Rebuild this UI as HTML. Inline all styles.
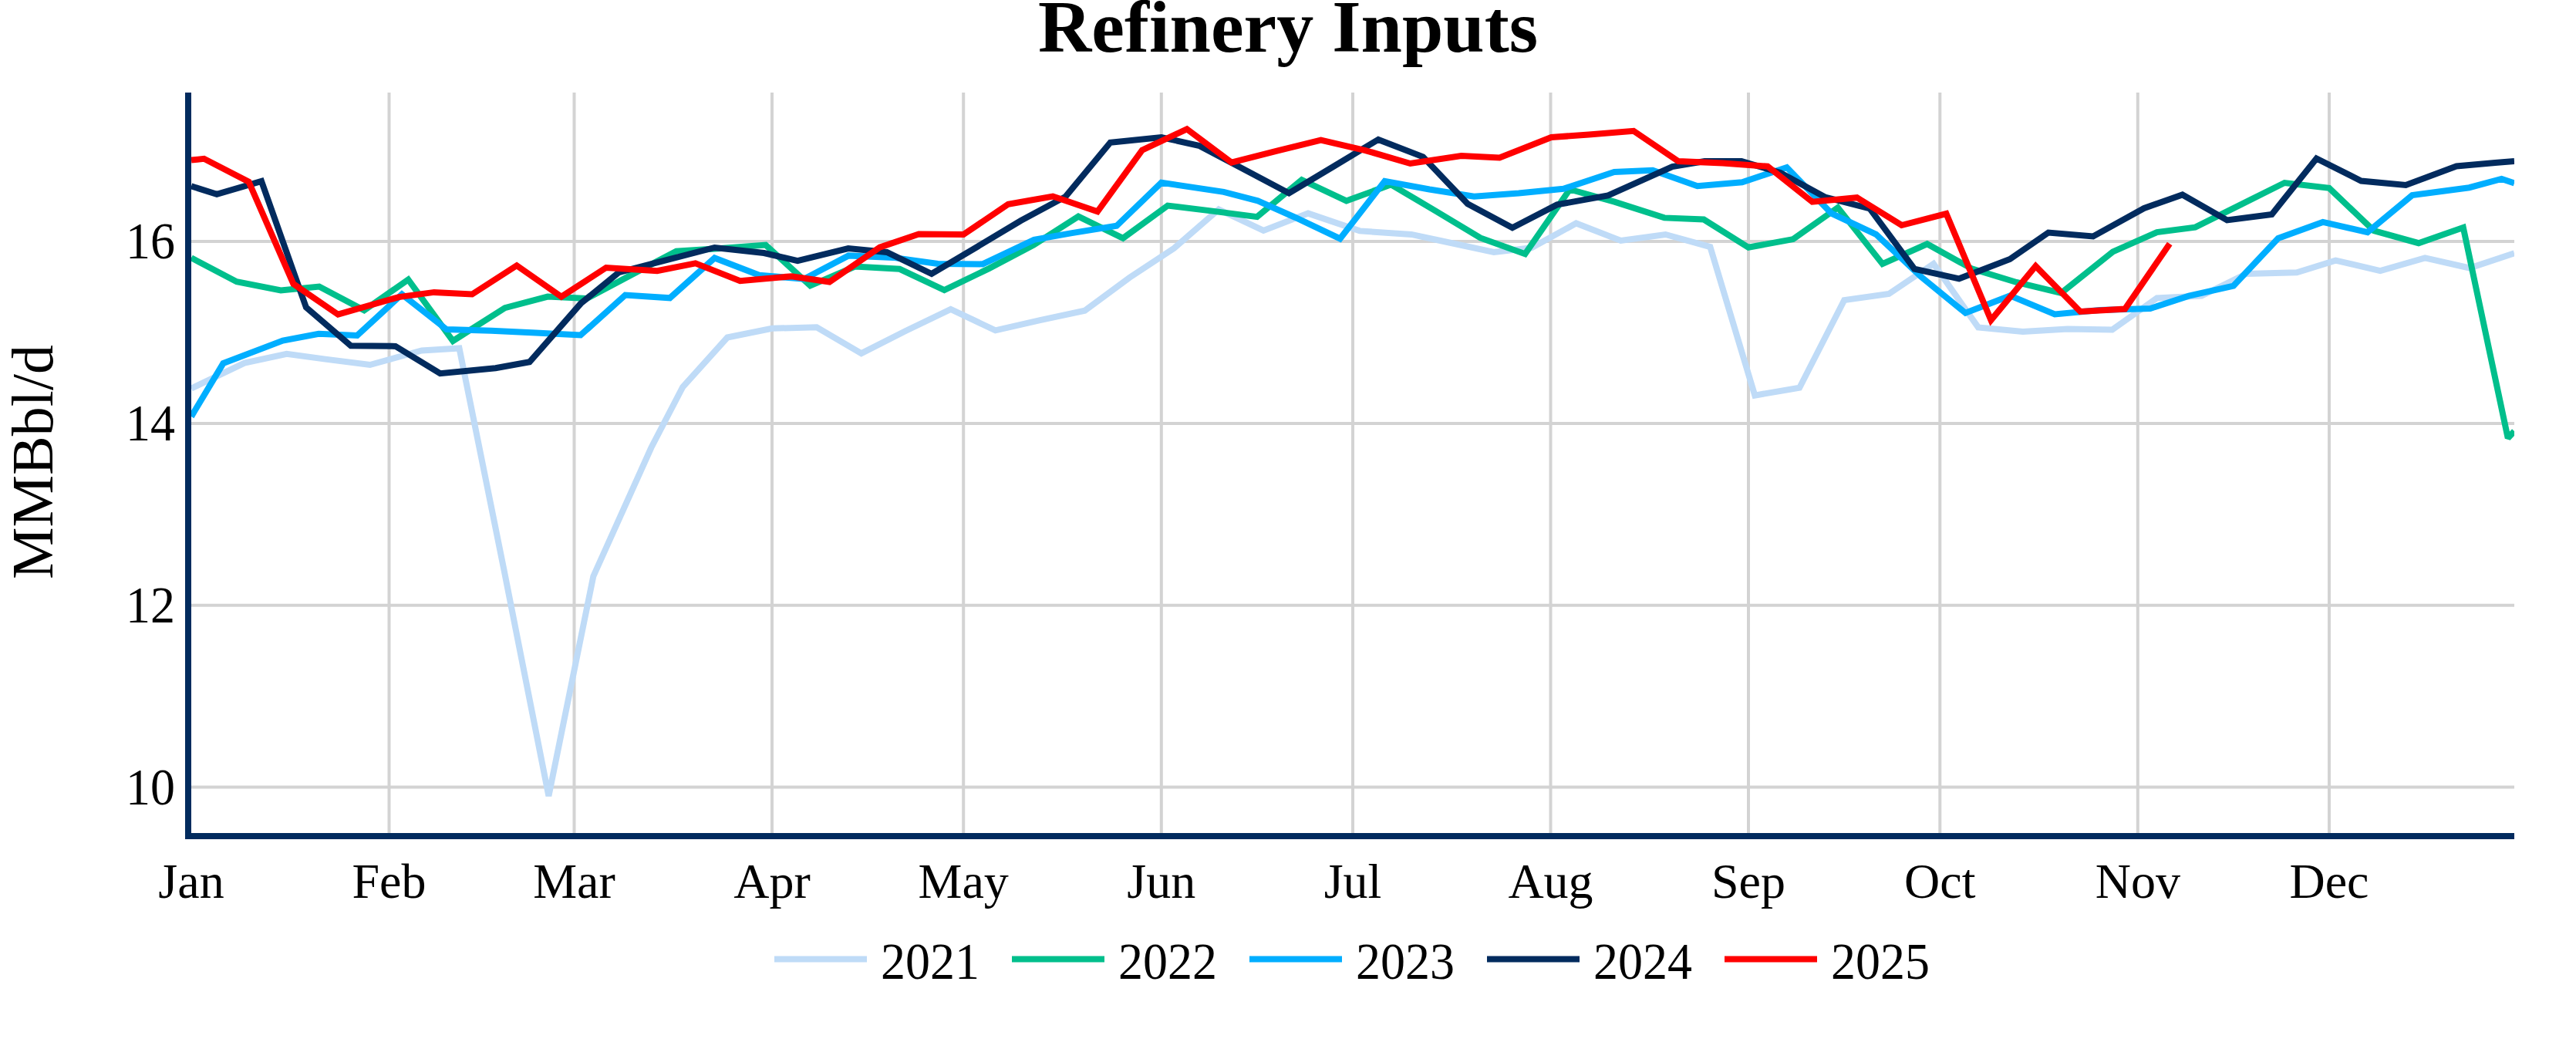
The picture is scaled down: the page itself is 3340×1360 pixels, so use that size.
<!DOCTYPE html>
<html lang="en"><head><meta charset="utf-8"><title>Refinery Inputs</title>
<style>html,body{margin:0;padding:0;background:#fff}body{width:3340px;height:1360px;overflow:hidden}svg{display:block}text{font-family:"Liberation Serif",serif;fill:#000}</style></head><body>
<svg width="3340" height="1360" viewBox="0 0 3340 1360">
<rect width="3340" height="1360" fill="#fff"/>
<defs><clipPath id="c"><rect x="248" y="120" width="3012" height="960"/></clipPath></defs>
<path d="M504.5,120 V1080 M744.5,120 V1080 M1001.0,120 V1080 M1249.2,120 V1080 M1505.8,120 V1080 M1754.0,120 V1080 M2010.5,120 V1080 M2267.0,120 V1080 M2515.3,120 V1080 M2771.8,120 V1080 M3020.0,120 V1080 M248,1020.6 H3260 M248,784.7 H3260 M248,548.9 H3260 M248,313.0 H3260" stroke="#D3D3D3" stroke-width="4" fill="none"/>
<g clip-path="url(#c)" fill="none" stroke-width="8" stroke-linejoin="miter" stroke-miterlimit="2">
<polyline stroke="#BFDBF7" points="248.0,503.6 317.0,470.6 371.7,458.9 421.8,465.6 479.7,473.0 546.8,454.4 595.5,451.4 653.5,739.0 711.4,1032.0 769.3,747.2 844.3,580.5 885.2,501.8 943.1,437.5 1001.0,425.8 1058.9,424.3 1116.8,458.1 1174.8,428.8 1232.7,401.0 1290.6,428.3 1348.5,415.2 1406.5,402.7 1464.4,360.0 1522.3,321.8 1580.2,271.6 1638.2,298.9 1696.1,276.6 1763.0,299.4 1830.0,303.9 1869.8,312.5 1936.9,327.0 1985.7,321.3 2043.6,289.5 2101.5,311.9 2159.5,304.0 2217.4,320.1 2275.3,512.6 2333.2,502.7 2391.2,389.1 2449.1,381.0 2507.0,342.0 2564.9,424.4 2622.8,429.9 2680.8,426.5 2738.7,427.6 2796.6,386.4 2854.5,383.5 2912.5,355.0 2978.0,353.3 3028.3,337.6 3086.2,351.2 3144.2,334.3 3202.1,347.5 3260.0,328.4"/>
<polyline stroke="#00BF8C" points="248.0,334.3 306.9,365.2 364.1,376.4 413.9,371.5 472.2,402.4 529.3,362.5 587.3,442.0 654.7,399.2 710.1,384.6 761.0,387.0 819.0,356.1 876.9,325.8 934.8,322.0 992.7,317.5 1050.6,370.4 1108.6,345.6 1166.5,348.8 1224.4,376.1 1282.3,348.1 1340.3,317.5 1398.2,280.6 1456.1,308.8 1514.0,266.6 1572.0,273.6 1629.9,281.1 1687.8,233.1 1745.7,260.4 1803.6,239.3 1861.6,273.6 1919.5,308.4 1977.4,329.3 2035.3,245.5 2093.3,261.7 2158.0,282.4 2209.1,284.5 2267.0,320.8 2325.0,310.1 2382.9,269.1 2440.8,342.2 2498.7,316.3 2556.6,348.4 2614.6,366.0 2672.5,379.8 2739.5,326.4 2796.6,301.1 2846.3,294.6 2904.2,265.8 2962.1,237.0 3020.0,243.9 3078.0,299.1 3135.9,315.2 3193.8,295.0 3251.7,568.0 3260.0,559.0"/>
<polyline stroke="#00AEFF" points="248.0,540.1 289.4,471.1 366.7,441.5 413.2,432.8 463.1,435.0 521.1,381.5 579.0,427.1 636.9,428.8 694.8,431.6 752.8,434.5 810.7,382.6 868.6,386.3 926.5,334.4 984.5,356.8 1042.4,361.7 1100.3,331.4 1158.2,333.9 1216.1,341.9 1274.1,342.4 1340.7,310.8 1389.9,302.1 1447.8,292.8 1505.8,236.8 1586.7,248.9 1630.8,260.3 1679.5,282.0 1737.5,309.4 1795.4,234.8 1853.3,245.5 1911.2,254.7 1969.1,250.5 2027.1,244.8 2093.0,223.0 2142.9,220.7 2200.8,241.3 2258.8,236.3 2316.7,217.0 2374.6,276.6 2432.5,303.9 2490.5,358.6 2548.4,405.8 2606.3,383.4 2664.2,407.5 2722.1,402.1 2788.0,400.0 2838.0,383.7 2895.9,370.6 2953.8,309.0 3011.8,287.9 3069.7,301.1 3127.6,253.1 3201.6,243.2 3243.5,232.0 3260.0,237.5"/>
<polyline stroke="#022B5E" points="248.0,241.4 281.1,251.8 339.0,234.9 396.9,398.5 454.9,448.2 512.8,448.9 570.7,484.2 642.5,477.3 686.6,469.3 753.0,393.5 802.4,353.2 860.3,338.2 926.5,321.0 990.6,328.0 1034.1,338.1 1099.8,322.0 1149.9,327.0 1207.9,355.0 1265.8,320.7 1323.7,286.0 1381.6,254.9 1439.6,184.7 1505.8,178.0 1555.4,189.1 1613.3,219.7 1671.3,250.5 1729.2,215.7 1787.1,180.9 1845.0,203.3 1902.9,264.2 1960.9,295.2 2018.8,265.4 2085.0,253.4 2168.3,216.1 2210.2,209.1 2258.0,209.1 2308.4,223.9 2366.3,255.5 2424.3,270.4 2482.2,348.6 2540.1,361.3 2606.0,336.0 2655.9,301.5 2713.9,306.5 2780.0,270.0 2829.7,252.4 2887.6,285.4 2945.6,277.9 3003.5,205.5 3061.4,234.5 3119.3,239.9 3185.0,215.5 3235.2,210.9 3260.0,209.1"/>
<polyline stroke="#FF0000" points="248.0,207.6 264.5,205.8 322.5,235.7 380.4,368.0 438.3,407.7 517.2,385.1 562.8,378.9 612.1,381.5 670.0,344.2 727.9,384.7 785.9,347.0 852.0,351.2 901.7,341.4 959.6,364.2 1026.4,358.2 1075.5,365.5 1140.7,320.7 1191.3,303.4 1249.2,304.1 1307.2,264.8 1365.1,254.5 1423.0,274.3 1480.9,194.6 1538.9,167.3 1596.8,210.7 1654.7,195.8 1712.6,181.7 1770.5,195.1 1828.5,212.0 1894.7,202.0 1944.3,204.5 2011.4,178.0 2060.2,174.5 2118.1,169.8 2176.0,209.0 2233.9,211.5 2291.9,215.7 2349.8,261.7 2407.7,256.2 2465.6,292.0 2523.5,277.1 2581.5,415.0 2639.4,345.0 2697.3,404.0 2755.2,400.6 2813.2,316.0"/>
</g>
<path d="M244,120 V1084" stroke="#022B5E" stroke-width="8" fill="none"/>
<path d="M240,1084 H3260" stroke="#022B5E" stroke-width="8" fill="none"/>
<text x="1670" y="66.5" text-anchor="middle" font-size="96" font-weight="bold">Refinery Inputs</text>
<text x="248.0" y="1164" text-anchor="middle" font-size="64">Jan</text>
<text x="504.5" y="1164" text-anchor="middle" font-size="64">Feb</text>
<text x="744.5" y="1164" text-anchor="middle" font-size="64">Mar</text>
<text x="1001.0" y="1164" text-anchor="middle" font-size="64">Apr</text>
<text x="1249.2" y="1164" text-anchor="middle" font-size="64">May</text>
<text x="1505.8" y="1164" text-anchor="middle" font-size="64">Jun</text>
<text x="1754.0" y="1164" text-anchor="middle" font-size="64">Jul</text>
<text x="2010.5" y="1164" text-anchor="middle" font-size="64">Aug</text>
<text x="2267.0" y="1164" text-anchor="middle" font-size="64">Sep</text>
<text x="2515.3" y="1164" text-anchor="middle" font-size="64">Oct</text>
<text x="2771.8" y="1164" text-anchor="middle" font-size="64">Nov</text>
<text x="3020.0" y="1164" text-anchor="middle" font-size="64">Dec</text>
<text transform="translate(227,1042.8) scale(1,1.055)" text-anchor="end" font-size="64">10</text>
<text transform="translate(227,806.9) scale(1,1.055)" text-anchor="end" font-size="64">12</text>
<text transform="translate(227,571.1) scale(1,1.055)" text-anchor="end" font-size="64">14</text>
<text transform="translate(227,335.2) scale(1,1.055)" text-anchor="end" font-size="64">16</text>
<text transform="translate(68,599) rotate(-90)" text-anchor="middle" font-size="76">MMBbl/d</text>
<path d="M1004,1243.5 h120" stroke="#BFDBF7" stroke-width="8" fill="none"/>
<text transform="translate(1142,1269) scale(1,1.055)" font-size="64">2021</text>
<path d="M1312,1243.5 h120" stroke="#00BF8C" stroke-width="8" fill="none"/>
<text transform="translate(1450,1269) scale(1,1.055)" font-size="64">2022</text>
<path d="M1620,1243.5 h120" stroke="#00AEFF" stroke-width="8" fill="none"/>
<text transform="translate(1758,1269) scale(1,1.055)" font-size="64">2023</text>
<path d="M1928,1243.5 h120" stroke="#022B5E" stroke-width="8" fill="none"/>
<text transform="translate(2066,1269) scale(1,1.055)" font-size="64">2024</text>
<path d="M2236,1243.5 h120" stroke="#FF0000" stroke-width="8" fill="none"/>
<text transform="translate(2374,1269) scale(1,1.055)" font-size="64">2025</text>
</svg></body></html>
